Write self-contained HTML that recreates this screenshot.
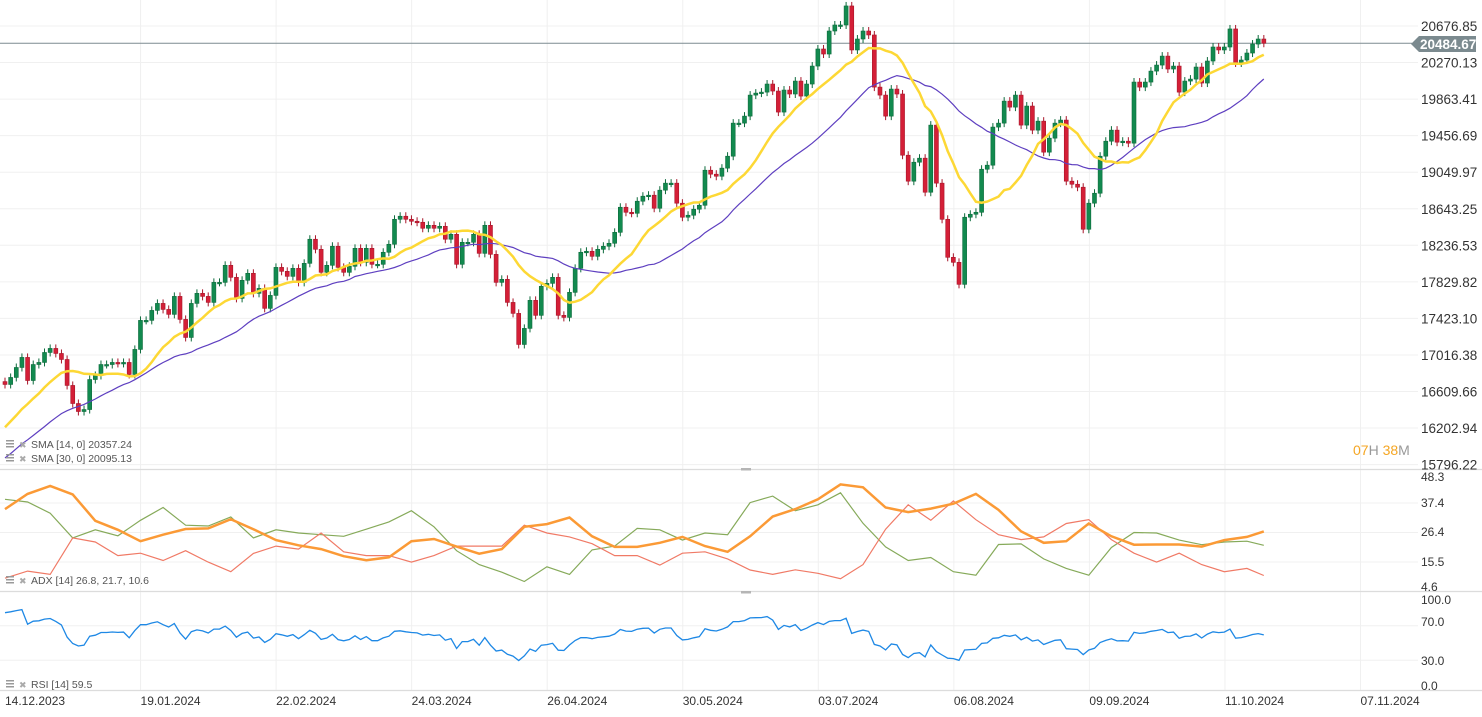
<!DOCTYPE html>
<html><head><meta charset="utf-8"><style>
html,body{margin:0;padding:0;background:#fff;overflow:hidden}
svg{display:block;font-family:"Liberation Sans",Arial,sans-serif}
</style></head><body>
<svg id="chart" width="1482" height="717" viewBox="0 0 1482 717">
<g id="grid"></g>
<g id="main"></g>
<g id="adx"></g>
<g id="rsi"></g>
<g id="axes"></g>
</svg>
<script>
// ---- data ----
const history = [15300,15250,15380,15350,15480,15450,15560,15520,15640,15600,15700,15680,15760,15740,15820,15900,15850,15950,16000,15950,16050,16150,16100,16250,16300,16280,16400,16450,16550];
const closes = [16688,16766,16877,16989,16732,16910,16933,17044,17089,17033,16966,16677,16476,16387,16409,16743,16788,16910,16910,16933,16922,16933,16799,17078,17401,17401,17512,17590,17523,17468,17668,17412,17211,17590,17702,17668,17601,17824,17824,18014,17880,17646,17847,17925,17702,17757,17535,17679,17991,17947,17891,17980,17824,18036,18304,18192,17936,18014,18226,17991,17936,18003,18203,18047,18203,18025,18025,18159,18248,18526,18560,18526,18504,18493,18426,18459,18426,18448,18304,18359,18025,18270,18270,18359,18147,18459,18136,17824,17858,17601,17479,17133,17312,17624,17457,17780,17813,17880,17457,17434,17713,17980,18159,18170,18114,18192,18226,18259,18381,18660,18604,18593,18727,18783,18794,18649,18850,18928,18928,18705,18549,18571,18638,18682,19072,19028,19005,19095,19228,19596,19596,19674,19908,19930,19941,20031,19953,19719,19964,19920,20064,19897,20031,20231,20421,20365,20621,20688,20688,20900,20410,20532,20621,20577,19997,19908,19674,19975,19920,19239,18950,19161,19206,18827,19574,18928,18526,18103,18047,17802,18549,18582,18604,19083,19128,19552,19596,19841,19774,19908,19574,19786,19518,19618,19273,19429,19596,19630,18950,18916,18883,18415,18705,18816,19228,19395,19518,19384,19395,19373,20053,19997,20053,20175,20242,20342,20198,20231,19941,20064,20086,20220,20042,20287,20443,20410,20443,20644,20265,20298,20376,20476,20532,20485];
const adxIdx = [0,4,8,12,16,20,24,28,32,36,40,44,48,52,56,60,64,68,72,76,80,84,88,92,96,100,104,108,112,116,120,124,128,132,136,140,144,148,152,156,160,164,168,172,176,180,184,188,192,196,200,204,208,212,216,220,223];
const adxVals = [35.0,40.6,43.5,40.4,30.7,27.4,23.2,25.6,27.7,27.9,31.3,27.6,23.6,21.7,20.3,17.7,16.2,17.3,23.2,24.0,21.2,18.6,20.3,28.5,29.5,31.9,25.0,21.1,21.1,22.6,24.8,21.4,19.3,25.0,32.3,35.0,38.6,44.1,43.0,35.6,33.9,35.2,37.0,40.6,34.7,26.8,22.6,23.2,29.7,25.0,21.9,22.0,22.0,21.2,23.6,24.8,26.8];
const pdiVals = [38.6,37.6,33.5,24.4,27.4,25.2,30.9,35.6,29.1,28.8,32.1,24.4,27.4,26.2,25.6,25.0,27.6,30.3,34.4,28.5,19.7,14.6,11.8,8.4,13.8,11.0,20.0,21.4,27.9,27.4,23.6,26.2,25.6,37.4,39.8,34.4,36.6,41.0,29.8,21.1,16.1,17.2,12.0,10.7,22.0,22.2,16.7,13.2,10.7,20.9,26.4,26.2,23.6,21.9,22.9,23.2,21.7];
const mdiVals = [9.6,12.2,11.0,24.4,22.9,17.9,18.8,16.1,19.7,15.5,12.0,18.7,21.4,20.3,26.2,19.3,17.9,17.9,15.5,17.9,21.4,21.4,21.4,29.1,26.2,24.8,22.3,17.9,17.9,14.4,18.8,19.3,16.7,12.6,11.0,12.7,11.4,9.4,14.6,27.6,36.6,30.9,38.0,31.1,25.6,23.8,24.8,29.7,31.1,23.8,18.8,15.5,18.8,14.6,12.0,13.2,10.6];
const priceTicks = ["20676.85","20270.13","19863.41","19456.69","19049.97","18643.25","18236.53","17829.82","17423.10","17016.38","16609.66","16202.94","15796.22"];
const adxTicks = ["48.3","37.4","26.4","15.5","4.6"];
const rsiTicks = ["100.0","70.0","30.0","0.0"];
const dateLabels = ["14.12.2023","19.01.2024","22.02.2024","24.03.2024","26.04.2024","30.05.2024","03.07.2024","06.08.2024","09.09.2024","11.10.2024","07.11.2024"];
const lastPrice = 20484.67;

// ---- scales ----
const NS='http://www.w3.org/2000/svg';
const xOf = i => 5 + i*5.645;
const pY = p => 26 + (20676.85 - p)/406.72*36.55;
const aY = v => 532.5 - (v-26.4)*2.72;
const rY = v => 686 - v*0.86;
function mk(tag, attrs, parent){const e=document.createElementNS(NS,tag);for(const k in attrs)e.setAttribute(k,attrs[k]);parent.appendChild(e);return e;}
const G=document.getElementById('grid'),M=document.getElementById('main'),A=document.getElementById('adx'),R=document.getElementById('rsi'),X=document.getElementById('axes');

// grid
for(let k=0;k<priceTicks.length;k++){const y=26+k*36.55;const l=mk('line',{x1:0,x2:1418,y1:y,y2:y,stroke:'#f0f0f0','stroke-width':1},G);

}
for(let k=1;k<=10;k++){const x=5+k*135.55;const l=mk('line',{x1:x,x2:x,y1:0,y2:690,stroke:'#f0f0f0','stroke-width':1},G);

}
[503,532.5,562].forEach(y=>{const l=mk('line',{x1:0,x2:1418,y1:y,y2:y,stroke:'#f0f0f0'},G);

});
[rY(70),rY(30)].forEach(y=>{const l=mk('line',{x1:0,x2:1418,y1:y,y2:y,stroke:'#f0f0f0'},G);

});

// full series for SMA / RSI
const all = history.concat(closes);
const H = history.length;
function sma(n,i){const j=i+H;let s=0,c=0;for(let k=Math.max(0,j-n+1);k<=j;k++){s+=all[k];c++;}return s/c;}

// price line
const pl=mk('line',{x1:0,x2:1412,y1:pY(lastPrice),y2:pY(lastPrice),stroke:'#7d8b91','stroke-width':1},M);



// candles
for(let i=0;i<closes.length;i++){
  const o = i===0?16720:closes[i-1], c=closes[i];
  const up=c>=o; const x=xOf(i);
  const top=pY(Math.max(o,c)), bot=pY(Math.min(o,c));
  const col=up?'#128a4f':'#d41f37', dark=up?'#0d6b3c':'#a8162a';
  const g=mk('g',{},M);
  
  
  mk('line',{x1:x,x2:x,y1:top-4,y2:bot+4,stroke:dark,'stroke-width':1},g);
  mk('rect',{x:x-2,y:top,width:4,height:Math.max(1.5,bot-top),fill:col,stroke:dark,'stroke-width':0.6},g);
}
// SMAs
function pathFrom(fn,n){let d='';for(let i=0;i<n;i++){d+=(i?'L':'M')+xOf(i).toFixed(1)+','+fn(i).toFixed(1);}return d;}
const s30=mk('path',{d:pathFrom(i=>pY(sma(30,i)),closes.length),fill:'none',stroke:'#5e3fc0','stroke-width':1.2},M);


const s14=mk('path',{d:pathFrom(i=>pY(sma(14,i)),closes.length),fill:'none',stroke:'#fdd835','stroke-width':2.5},M);



// ADX
function idxPath(vals){let d='';vals.forEach((v,k)=>{d+=(k?'L':'M')+xOf(adxIdx[k]).toFixed(1)+','+aY(v).toFixed(1);});return d;}
const pdi=mk('path',{d:idxPath(pdiVals),fill:'none',stroke:'#86aa5a','stroke-width':1.2},A);


const mdi=mk('path',{d:idxPath(mdiVals),fill:'none',stroke:'#f07a66','stroke-width':1.2},A);


const adl=mk('path',{d:idxPath(adxVals),fill:'none',stroke:'#fb9a36','stroke-width':2.5},A);



// RSI (Wilder 14) from closes
let ag=0,al=0;const rsi=[];
for(let j=1;j<all.length;j++){const ch=all[j]-all[j-1];const g=Math.max(ch,0),l=Math.max(-ch,0);
 if(j<=14){ag+=g/14;al+=l/14;}else{ag=(ag*13+g)/14;al=(al*13+l)/14;}
 if(j>=H){rsi.push(al===0?100:100-100/(1+ag/al));}}
const rl=mk('path',{d:pathFrom(i=>rY(rsi[i]),closes.length),fill:'none',stroke:'#1e88e5','stroke-width':1.3},R);



// panel separators
[469.5,591.5,690.5].forEach(y=>{const l=mk('line',{x1:0,x2:1482,y1:y,y2:y,stroke:'#dcdcdc','stroke-width':1.2},X);

});
[468,591].forEach(y=>{const h=mk('rect',{x:741,y:y,width:10,height:2.5,fill:'#b5b5b5'},X);

});

// tick labels
function txt(s,x,y,attrs,parent,name,inter){const t=mk('text',Object.assign({x:x,y:y},attrs),parent);t.textContent=s;

return t;}
priceTicks.forEach((s,k)=>txt(s,1421,26+k*36.55+5,{'font-size':'13.5',fill:'#333'},X,'price-tick-label'));
// last price badge
const bg=mk('path',{d:'M1411,44 L1419,36 L1476,36 L1476,52 L1419,52 Z',fill:'#7b8a8f'},X);


txt('20484.67',1420,49,{'font-size':'13.5',fill:'#fff','font-weight':'bold'},X,'last-price-label');
const adxTy=[477,503,532,562,587];
adxTicks.forEach((s,k)=>txt(s,1421,adxTy[k]+4,{'font-size':'12',fill:'#333'},X,'adx-tick-label'));
const rsiTy=[600,622,661,686];
rsiTicks.forEach((s,k)=>txt(s,1421,rsiTy[k]+4,{'font-size':'12',fill:'#333'},X,'rsi-tick-label'));
dateLabels.forEach((s,k)=>txt(s,5+k*135.55,705,{'font-size':'12',fill:'#333'},X,'date-label'));

// countdown
const cd=mk('text',{x:1353,y:455,'font-size':'14'},X);


cd.innerHTML='<tspan fill="#f5a623">07</tspan><tspan fill="#999">H </tspan><tspan fill="#f5a623">38</tspan><tspan fill="#999">M</tspan>';

// legends
function legend(y,label,name){
 const ic=mk('g',{},X);
 
 
 mk('rect',{x:6,y:y-8,width:8,height:1.5,fill:'#999'},ic);mk('rect',{x:6,y:y-5,width:8,height:1.5,fill:'#999'},ic);mk('rect',{x:6,y:y-2,width:8,height:1.5,fill:'#999'},ic);
 txt('✖',19,y,{'font-size':'9',fill:'#aaa'},X,name+'-remove-icon',true);
 txt(label,31,y,{'font-size':'10.5',fill:'#555'},X,name+'-legend',false);
}
legend(448,'SMA [14, 0] 20357.24','sma-14');
legend(462,'SMA [30, 0] 20095.13','sma-30');
legend(584,'ADX [14] 26.8, 21.7, 10.6','adx');
legend(688,'RSI [14] 59.5','rsi');
</script>
</body></html>
